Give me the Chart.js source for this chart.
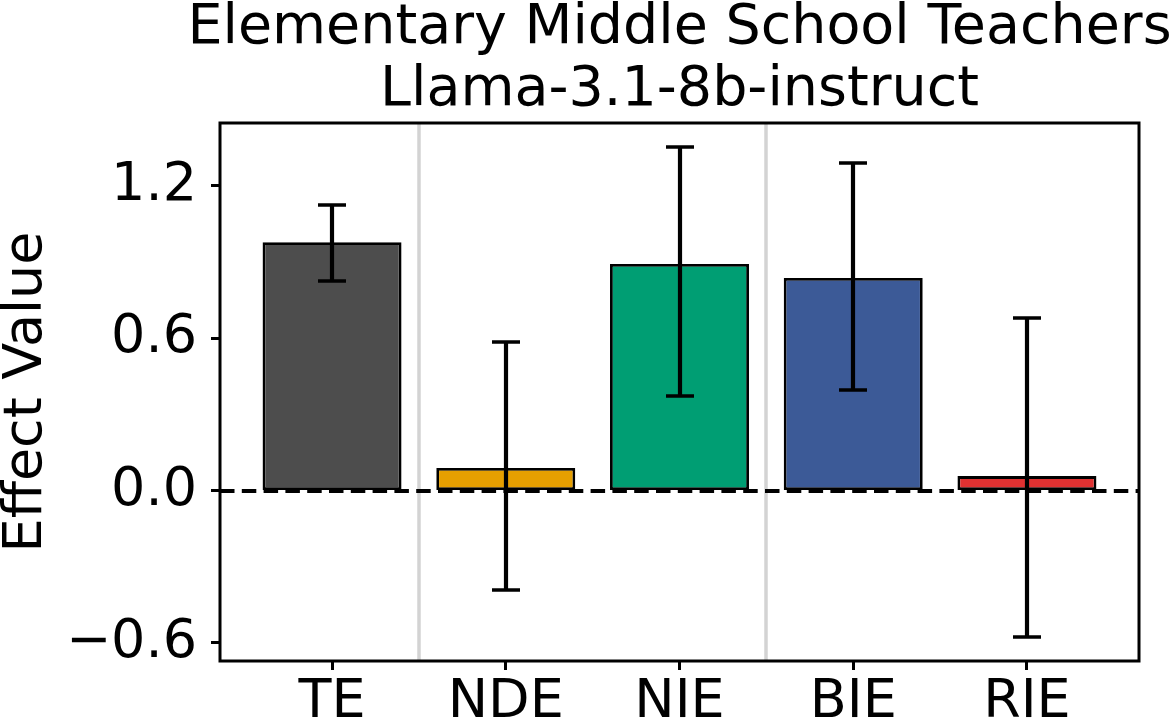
<!DOCTYPE html>
<html>
<head>
<meta charset="utf-8">
<script src="https://cdn.jsdelivr.net/npm/chart.js@4.4.1/dist/chart.umd.min.js"></script>
<style>
  html, body { margin: 0; padding: 0; background: #fff; }
  #wrap { width: 1169px; height: 724px; }
</style>
</head>
<body>
<div id="wrap"><canvas id="effectChart"></canvas></div>
<script>
// effect estimates with their interval bounds
const categories = ['TE', 'NDE', 'NIE', 'BIE', 'RIE'];
const effects = [0.978, 0.089, 0.892, 0.837, 0.057];
const lowerBounds = [0.824, -0.392, 0.372, 0.396, -0.577];
const upperBounds = [1.124, 0.585, 1.354, 1.289, 0.679];
const barColors = ['#4d4d4d', '#e69f00', '#009e73', '#3c5a97', '#e03131'];
const yTicks = [-0.6, 0.0, 0.6, 1.2];
const groupBreaks = [0.5, 2.5];
const titleLines = ['Elementary Middle School Teachers', 'Llama-3.1-8b-instruct'];

const FONT = 'DejaVu Sans';

const effectPlugin = {
    id: 'effectExtras',
    beforeDatasetsDraw(chart) {
        const { ctx, chartArea, scales } = chart;
        ctx.save();
        ctx.strokeStyle = '#d3d3d3';
        ctx.lineWidth = 3.5;
        groupBreaks.forEach(b => {
            const x = Math.round(scales.x.getPixelForValue(b));
            ctx.beginPath();
            ctx.moveTo(x, chartArea.top);
            ctx.lineTo(x, chartArea.bottom);
            ctx.stroke();
        });
        ctx.restore();
    },
    afterDatasetsDraw(chart) {
        const { ctx, chartArea, scales } = chart;
        ctx.save();
        // zero line
        const y0 = Math.round(scales.y.getPixelForValue(0));
        ctx.strokeStyle = '#000';
        ctx.lineWidth = 4.2;
        ctx.setLineDash([14.5, 7.3]);
        ctx.beginPath();
        ctx.moveTo(chartArea.left, y0);
        ctx.lineTo(chartArea.right, y0);
        ctx.stroke();
        ctx.setLineDash([]);

        // error bars
        categories.forEach((c, i) => {
            const x = Math.round(scales.x.getPixelForValue(i));
            const yl = Math.round(scales.y.getPixelForValue(lowerBounds[i]));
            const yu = Math.round(scales.y.getPixelForValue(upperBounds[i]));
            ctx.lineWidth = 4.2;
            ctx.beginPath();
            ctx.moveTo(x, yl);
            ctx.lineTo(x, yu);
            ctx.stroke();
            ctx.lineWidth = 3.4;
            ctx.beginPath();
            ctx.moveTo(x - 14, yl);
            ctx.lineTo(x + 14, yl);
            ctx.moveTo(x - 14, yu);
            ctx.lineTo(x + 14, yu);
            ctx.stroke();
        });
        ctx.restore();
    },
    afterDraw(chart) {
        const { ctx, chartArea } = chart;
        ctx.save();
        ctx.strokeStyle = '#000';
        ctx.lineWidth = 3;
        ctx.strokeRect(chartArea.left, chartArea.top,
            chartArea.right - chartArea.left, chartArea.bottom - chartArea.top);

        // two-line title centred over the plot
        ctx.fillStyle = '#000';
        ctx.font = '55.5px "DejaVu Sans"';
        ctx.textAlign = 'center';
        ctx.textBaseline = 'alphabetic';
        const cx = (chartArea.left + chartArea.right) / 2;
        ctx.fillText(titleLines[0], cx, chartArea.top - 79.7);
        ctx.fillText(titleLines[1], cx, chartArea.top - 18);
        ctx.restore();
    }
};

const ctx = document.getElementById('effectChart').getContext('2d');

const chart = new Chart(ctx, {
    type: 'bar',
    data: {
        datasets: [{
            data: effects.map((v, i) => ({ x: i, y: v })),
            backgroundColor: barColors,
            borderColor: '#000',
            borderWidth: 2.8,
            borderSkipped: false,
            barPercentage: 0.8,
            categoryPercentage: 1.0
        }]
    },
    options: {
        responsive: true,
        maintainAspectRatio: false,
        animation: false,
        devicePixelRatio: 1,
        layout: { padding: { left: 0, right: 30, top: 123, bottom: 0 } },
        plugins: {
            legend: { display: false },
            tooltip: { enabled: false },
            title: { display: false }
        },
        scales: {
            x: {
                type: 'linear',
                offset: false,
                min: -0.645,
                max: 4.645,
                afterBuildTicks: s => { s.ticks = categories.map((c, i) => ({ value: i })); },
                afterFit: s => { s.height = 63; },
                ticks: {
                    color: '#000',
                    font: { family: FONT, size: 54, lineHeight: 1 },
                    padding: 6,
                    maxRotation: 0,
                    autoSkip: false,
                    callback: v => categories[v]
                },
                grid: { offset: false, drawOnChartArea: false, drawTicks: true, tickLength: 9, tickWidth: 3, tickColor: '#000' },
                border: { display: false }
            },
            y: {
                min: -0.671,
                max: 1.447,
                afterBuildTicks: s => { s.ticks = yTicks.map(v => ({ value: v })); },
                afterFit: s => { s.width = 220; },
                ticks: {
                    color: '#000',
                    font: { family: FONT, size: 54, lineHeight: 1 },
                    padding: 14,
                    callback: v => (v < 0 ? '\u2212' + Math.abs(v).toFixed(1) : v.toFixed(1))
                },
                grid: { drawOnChartArea: false, drawTicks: true, tickLength: 9, tickWidth: 3, tickColor: '#000' },
                border: { display: false },
                title: {
                    display: true,
                    text: 'Effect Value',
                    color: '#000',
                    font: { family: FONT, size: 54, lineHeight: 1 },
                    padding: 0
                }
            }
        }
    },
    plugins: [effectPlugin]
});
</script>
</body>
</html>
